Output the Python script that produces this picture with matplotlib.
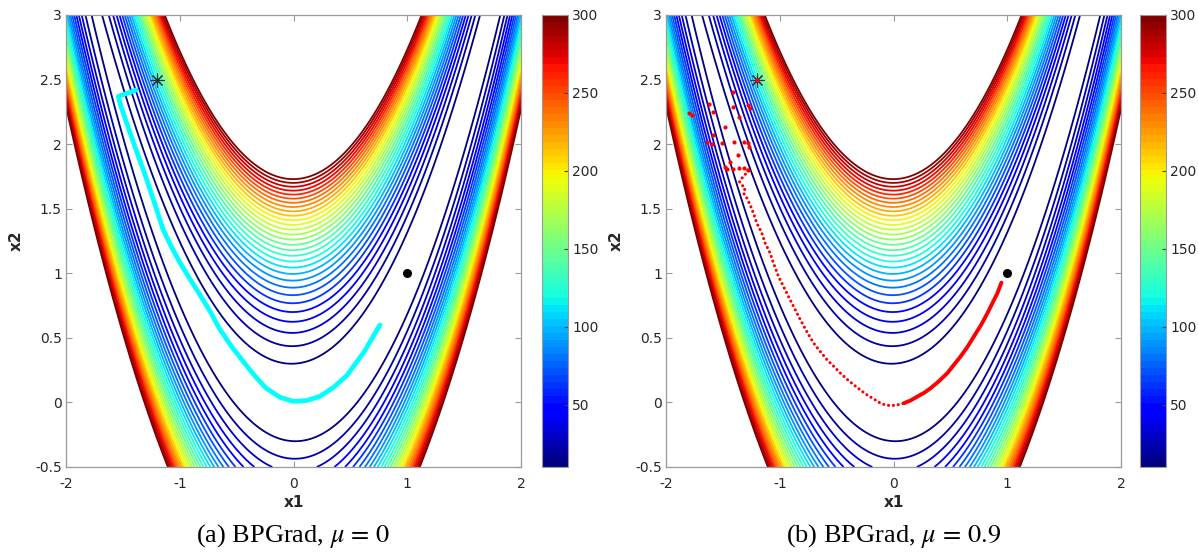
import numpy as np
import matplotlib
matplotlib.use('Agg')
import matplotlib.pyplot as plt
from matplotlib import cm, colors

plt.rcParams['mathtext.fontset'] = 'stix'
plt.rcParams['font.family'] = ['DejaVu Sans']

# contour levels of the Rosenbrock surface, start point and optimum
levels = list(range(10, 301, 10))
cbar_ticks = [50, 100, 150, 200, 250, 300]
x_ticks = [-2, -1, 0, 1, 2]
y_ticks = [-0.5, 0, 0.5, 1, 1.5, 2, 2.5, 3]
start = (-1.2, 2.5)
optimum = (1.0, 1.0)

# (a) BPGrad, mu = 0 : cyan trajectory
cyan_x = [-1.385, -1.44, -1.54, -1.52, -1.41, -1.30, -1.22, -1.147, -1.07, -1.00, -0.91, -0.82,
          -0.73, -0.65, -0.55, -0.44, -0.34, -0.24, -0.12, 0.0, 0.11, 0.23, 0.35, 0.47, 0.62, 0.76]
cyan_y = [2.42, 2.40, 2.37, 2.30, 2.02, 1.75, 1.54, 1.34, 1.20, 1.085, 0.955, 0.83,
          0.70, 0.57, 0.44, 0.315, 0.205, 0.11, 0.04, 0.008, 0.014, 0.046, 0.115, 0.21, 0.39, 0.60]

# (b) BPGrad, mu = 0.9 : early scattered iterates
red_pts_x = [-1.2, -1.407, -1.624, -1.583, -1.797, -1.768, -1.407, -1.275, -1.26, -1.357, -1.48, -1.583,
             -1.636, -1.597, -1.504, -1.401, -1.313, -1.275, -1.269, -1.363, -1.436, -1.48, -1.46,
             -1.412, -1.357, -1.313, -1.28]
red_pts_y = [2.5, 2.40, 2.311, 2.25, 2.239, 2.224, 2.286, 2.301, 2.278, 2.213, 2.135, 2.069,
             2.019, 2.002, 2.007, 2.017, 2.019, 2.012, 1.981, 1.916, 1.865, 1.826, 1.808,
             1.81, 1.813, 1.816, 1.80]
# descent along the valley (dotted iterates)
red_path_x = [-1.28, -1.295, -1.333, -1.354, -1.333, -1.304, -1.319, -1.295, -1.275, -1.26, -1.231,
              -1.201, -1.157, -1.128, -1.084, -1.055, -1.011, -0.967, -0.923, -0.878, -0.819,
              -0.76, -0.702, -0.64, -0.584, -0.52, -0.467, -0.41, -0.349, -0.29, -0.232,
              -0.17, -0.115, -0.07, -0.026, 0.03, 0.091]
red_path_y = [1.80, 1.775, 1.736, 1.710, 1.684, 1.659, 1.620, 1.594, 1.555, 1.529, 1.465,
              1.387, 1.310, 1.233, 1.155, 1.078, 0.975, 0.897, 0.820, 0.742, 0.64,
              0.545, 0.459, 0.39, 0.330, 0.275, 0.227, 0.18, 0.136, 0.095, 0.058,
              0.025, -0.006, -0.02, -0.025, -0.02, -0.006]
# dense final part (looks solid)
red_tail_x = [0.091, 0.15, 0.209, 0.27, 0.326, 0.40, 0.473, 0.53, 0.590, 0.65, 0.707, 0.77, 0.825,
              0.87, 0.913, 0.949]
red_tail_y = [-0.006, 0.015, 0.045, 0.075, 0.110, 0.165, 0.227, 0.29, 0.356, 0.43, 0.511, 0.60, 0.690,
              0.77, 0.845, 0.928]


def rosen(x, y):
    return (1 - x) ** 2 + 100 * (y - x ** 2) ** 2


gx = np.linspace(-2, 2, 500)
gy = np.linspace(-0.5, 3, 500)
X, Y = np.meshgrid(gx, gy)
Z = rosen(X, Y)

jet = plt.get_cmap('jet', 64)
norm = colors.Normalize(10, 300)
W, H = 1198.0, 554.0
tick_col = '#262626'
spine_col = '#9a9a9a'

fig = plt.figure(figsize=(W / 100, H / 100), dpi=100)


def panel(left_px, cb_px, caption):
    ax = fig.add_axes([left_px / W, (H - 467) / H, 455 / W, 452 / H])
    ax.contour(X, Y, Z, levels=levels, cmap=jet, norm=norm, linewidths=1.3)
    ax.set_xlim(-2, 2)
    ax.set_ylim(-0.5, 3)
    ax.set_xticks(x_ticks)
    ax.set_yticks(y_ticks)
    ax.set_yticklabels(['-0.5', '0', '0.5', '1', '1.5', '2', '2.5', '3'])
    ax.set_xticklabels(['-2', '-1', '0', '1', '2'])
    ax.tick_params(direction='in', top=True, right=True, length=4, width=0.8,
                   labelsize=10, labelcolor=tick_col, color=spine_col, pad=3)
    ax.tick_params(axis='x', pad=7)
    for s in ax.spines.values():
        s.set_color(spine_col)
        s.set_linewidth(0.9)
    ax.set_xlabel('x1', fontsize=11, fontweight='bold', color=tick_col, labelpad=3)
    ax.set_ylabel('x2', fontsize=11, fontweight='bold', color=tick_col, labelpad=8)

    cax = fig.add_axes([cb_px / W, (H - 467) / H, 26 / W, 452 / H])
    cb = fig.colorbar(cm.ScalarMappable(norm=norm, cmap=jet), cax=cax, ticks=cbar_ticks)
    cb.outline.set_edgecolor(spine_col)
    cb.outline.set_linewidth(0.8)
    cax.tick_params(direction='in', length=3, width=0.8, labelsize=10,
                    labelcolor=tick_col, color='#404040', pad=3)

    fig.text((left_px + 227.5) / W, 1 - 536 / H, caption, family='Liberation Serif',
             fontsize=19, ha='center', va='center')
    return ax


ax1 = panel(66, 542, '(a) BPGrad, $\\mu\\,=\\,0$')
ax1.plot(cyan_x, cyan_y, color='cyan', lw=3.4, solid_capstyle='round', solid_joinstyle='round')
ax1.plot(*start, marker=(8, 2, 0), ms=10, mew=0.8, color='#303030', ls='none')
ax1.plot(*optimum, 'o', color='black', ms=5.5)

ax2 = panel(666, 1140, '(b) BPGrad, $\\mu\\,=\\,0.9$')
ax2.plot(red_pts_x, red_pts_y, 'o', color='red', ms=3, mew=0)
ax2.plot(red_path_x, red_path_y, color='red', lw=2.2, ls=(0, (0.05, 1.55)),
         dash_capstyle='round')
ax2.plot(red_tail_x, red_tail_y, color='red', lw=2.8, solid_capstyle='round',
         solid_joinstyle='round')
ax2.plot(*start, marker=(8, 2, 0), ms=10, mew=0.8, color='#303030', ls='none')
ax2.plot(*start, 'o', color='red', ms=3, mew=0)
ax2.plot(*optimum, 'o', color='black', ms=5.5)

fig.savefig('out.png', dpi=100)
